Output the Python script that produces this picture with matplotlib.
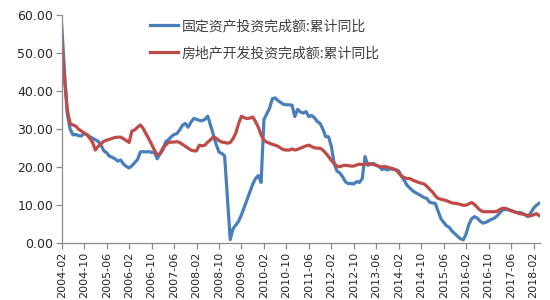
import matplotlib
matplotlib.use("Agg")
import matplotlib.pyplot as plt
import pandas as pd

plt.rcParams['font.family'] = ['Noto Sans CJK SC', 'DejaVu Sans']

months = [str(p) for p in pd.period_range("2004-02", "2018-04", freq="M")]

tick_labels = ["2004-02", "2004-10", "2005-06", "2006-02", "2006-10", "2007-06",
               "2008-02", "2008-10", "2009-06", "2010-02", "2010-10", "2011-06",
               "2012-02", "2012-10", "2013-06", "2014-02", "2014-10", "2015-06",
               "2016-02", "2016-10", "2017-06", "2018-02"]

series_names = ["固定资产投资完成额:累计同比", "房地产开发投资完成额:累计同比"]

fai = [57.4, 45.0, 34.0, 30.0, 28.5, 28.6, 28.3, 28.2, 28.9, 28.6,
       28.0, 27.6, 27.2, 26.8, 25.8, 24.3, 23.8, 22.9, 22.6, 22.2,
       21.6, 21.9, 20.8, 20.2, 19.8, 20.4, 21.2, 22.0, 24.0, 24.1,
       24.0, 24.1, 23.9, 23.9, 22.2, 23.5, 24.5, 26.7, 27.2, 28.0,
       28.6, 28.8, 29.8, 31.0, 31.5, 30.5, 31.8, 32.8, 32.6, 32.3,
       32.2, 32.6, 33.4, 31.0, 28.5, 26.0, 24.0, 23.6, 23.0, 12.0,
       1.0, 3.8, 4.8, 5.8, 7.5, 9.5, 11.5, 13.5, 15.5, 17.0,
       17.8, 16.0, 32.5, 34.0, 35.5, 38.0, 38.2, 37.5, 37.0, 36.5,
       36.4, 36.4, 36.3, 33.3, 35.2, 34.5, 34.2, 34.6, 33.3, 33.6,
       33.0, 32.0, 31.5, 30.0, 28.0, 28.0, 25.5, 21.0, 19.0, 18.5,
       17.5, 16.2, 15.7, 15.7, 15.6, 16.2, 16.0, 17.0, 22.8, 20.5,
       20.9, 21.0, 20.5, 20.2, 19.4, 19.6, 19.3, 19.6, 19.4, 19.3,
       19.0, 17.6, 16.5, 15.2, 14.5, 13.8, 13.3, 12.9, 12.5, 12.0,
       11.8, 10.8, 10.6, 10.5, 8.5, 6.5, 5.5, 4.6, 4.2, 3.2,
       2.5, 1.8, 1.2, 0.9, 2.5, 5.0, 6.5, 7.0, 6.6, 5.8,
       5.3, 5.5, 5.9, 6.3, 6.6, 7.2, 8.0, 8.8, 8.9, 8.8,
       8.6, 8.3, 8.1, 8.1, 7.9, 7.5, 7.0, 8.0, 9.2, 10.0,
       10.5]

rei = [53.0, 43.0, 35.0, 31.5, 31.1, 30.8, 30.0, 29.5, 29.0, 28.5,
       27.6, 26.5, 24.5, 25.5, 26.2, 26.8, 27.1, 27.3, 27.6, 27.8,
       27.9, 27.9, 27.5, 27.0, 26.5, 29.5, 29.8, 30.5, 31.1, 30.2,
       28.8, 27.5, 26.0, 24.5, 23.3, 23.5, 25.0, 25.8, 26.5, 26.6,
       26.6, 26.7, 26.5, 26.0, 25.5, 25.0, 24.5, 24.3, 24.3, 25.8,
       25.6, 25.8, 26.6, 27.2, 28.0, 27.6, 27.0, 26.6, 26.5, 26.3,
       26.5, 27.5, 29.0, 31.5, 33.4, 33.0, 32.8, 32.9, 33.2, 32.0,
       30.5, 28.5, 27.1, 26.6, 26.3, 26.0, 25.8, 25.5, 25.0, 24.6,
       24.5, 24.5, 24.8, 24.5, 24.7, 25.0, 25.3, 25.6, 25.8, 25.4,
       25.1, 25.0, 25.0, 24.5, 23.7, 22.8, 21.8, 21.0, 20.3, 20.1,
       20.4, 20.5, 20.4, 20.3, 20.3, 20.6, 20.8, 20.7, 20.8, 21.0,
       20.8, 20.7, 20.5, 20.2, 20.1, 20.2, 20.0, 19.8, 19.6, 19.3,
       18.5, 17.6, 17.3, 17.0, 17.0, 16.6, 16.3, 16.0, 15.8, 15.6,
       15.0, 14.2, 13.5, 12.5, 11.8, 11.6, 11.4, 11.2, 10.9, 10.6,
       10.5, 10.4, 10.2, 10.0, 10.0, 10.4, 10.7, 10.2, 9.4, 8.7,
       8.3, 8.3, 8.3, 8.3, 8.3, 8.4, 8.9, 9.2, 9.2, 8.9,
       8.6, 8.3, 8.1, 7.8, 7.7, 7.5, 7.3, 7.2, 7.5, 7.8,
       7.3]

y_ticks = [0, 10, 20, 30, 40, 50, 60]

fig = plt.figure(figsize=(5.5, 3.0), dpi=100)
ax = fig.add_axes([61.7 / 550, 56.7 / 300, (540 - 61.7) / 550, (243.3 - 15) / 300])

x = list(range(len(months)))
ax.plot(x, fai, color="#4A7EBB", lw=2.3, label=series_names[0], solid_joinstyle="round")
ax.plot(x, rei, color="#BE4B48", lw=2.3, label=series_names[1], solid_joinstyle="round")

ax.set_xlim(0, len(months) - 1 + 0.3)
ax.set_ylim(0, 60)
ax.set_yticks(y_ticks)
ax.set_yticklabels([f"{v:.2f}" for v in y_ticks], fontsize=9, color="#262626",
                   family="DejaVu Sans")
tick_pos = [months.index(t) for t in tick_labels]
ax.set_xticks(tick_pos)
ax.set_xticklabels(tick_labels, rotation=90, fontsize=8, color="#262626",
                   family="DejaVu Sans")

for s in ["top", "right"]:
    ax.spines[s].set_visible(False)
for s in ["left", "bottom"]:
    ax.spines[s].set_color("#8C8C8C")
    ax.spines[s].set_linewidth(0.9)
ax.tick_params(axis="both", direction="out", length=4, width=0.9, color="#8C8C8C", pad=2)

ax.legend(loc="upper left", bbox_to_anchor=(150 / 550, 1 - 19 / 300),
          bbox_transform=fig.transFigure, frameon=False, fontsize=10,
          handlelength=2.0, handletextpad=0.3, labelspacing=0.95,
          borderpad=0, borderaxespad=0, labelcolor="#404040")

fig.savefig("out.png", dpi=100)
